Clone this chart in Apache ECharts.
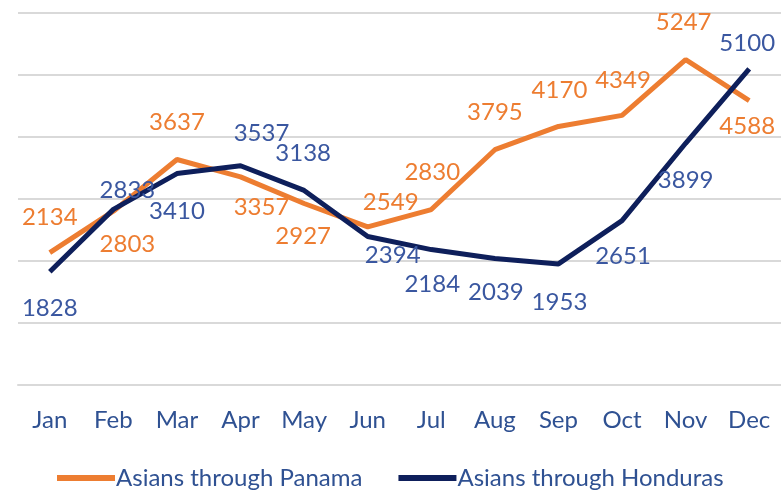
<!DOCTYPE html>
<html><head><meta charset="utf-8">
<script src="https://cdn.jsdelivr.net/npm/echarts@6/dist/echarts.min.js"></script>
<style>html,body{margin:0;padding:0;background:#fff}#c{width:781px;height:491px}</style>
</head><body><div id="c"></div>
<script>
const months = ['Jan','Feb','Mar','Apr','May','Jun','Jul','Aug','Sep','Oct','Nov','Dec'];
const panama = [2134, 2803, 3637, 3357, 2927, 2549, 2830, 3795, 4170, 4349, 5247, 4588];
const honduras = [1828, 2833, 3410, 3537, 3138, 2394, 2184, 2039, 1953, 2651, 3899, 5100];
const panamaName = 'Asians through Panama';
const hondurasName = 'Asians through Honduras';
// label offsets (style only)
const panamaOff = [[0,-35],[14,33],[0,-37],[21,30],[-1,33],[23,-25],[1,-37],[0,-37],[1,-36],[1,-35],[-2,-37],[-2,26]];
const hondurasOff = [[0,37],[14,-19],[0,38],[21,-32],[-1,-37],[25,19],[1,35],[1,34],[1,38],[1,36],[0,37],[-2,-26]];

const FONT = 'Lato';
function mk(vals, offs) {
  return vals.map((v, i) => ({ value: v, label: { offset: offs[i] } }));
}
const chart = echarts.init(document.getElementById('c'));
chart.setOption({
  animation: false,
  grid: { left: 18, width: 769, top: 13, bottom: 106 },
  xAxis: {
    type: 'category', data: months, boundaryGap: true,
    axisLine: { show: true, lineStyle: { color: '#d9d9d9', width: 2 } },
    axisTick: { show: false },
    axisLabel: { color: '#2F5192', fontSize: 24, fontFamily: FONT, margin: 23 }
  },
  yAxis: {
    type: 'value', min: 0, max: 6000, interval: 1000,
    axisLabel: { show: false }, axisLine: { show: false }, axisTick: { show: false },
    splitLine: { lineStyle: { color: '#d9d9d9', width: 2 } }
  },
  legend: {
    left: 57, top: 463, padding: 0, icon: 'rect', itemWidth: 58, itemHeight: 6, itemGap: 36,
    textStyle: { color: '#2F5192', fontSize: 24, fontFamily: FONT, padding: [0,0,0,-4], lineHeight: 30 },
    data: [panamaName, hondurasName]
  },
  series: [
    {
      name: panamaName, type: 'line', data: mk(panama, panamaOff),
      color: '#ED7D31', symbol: 'circle', symbolSize: 0.1, showSymbol: true,
      lineStyle: { width: 5, color: '#ED7D31' },
      label: { show: true, position: 'inside', color: '#ED7D31', fontSize: 24, fontFamily: FONT, align: 'center', verticalAlign: 'middle' },
      z: 2
    },
    {
      name: hondurasName, type: 'line', data: mk(honduras, hondurasOff),
      color: '#0E1F5B', symbol: 'circle', symbolSize: 0.1, showSymbol: true,
      lineStyle: { width: 5, color: '#0E1F5B' },
      label: { show: true, position: 'inside', color: '#3A57A0', fontSize: 24, fontFamily: FONT, align: 'center', verticalAlign: 'middle' },
      z: 3
    }
  ]
});
</script></body></html>
